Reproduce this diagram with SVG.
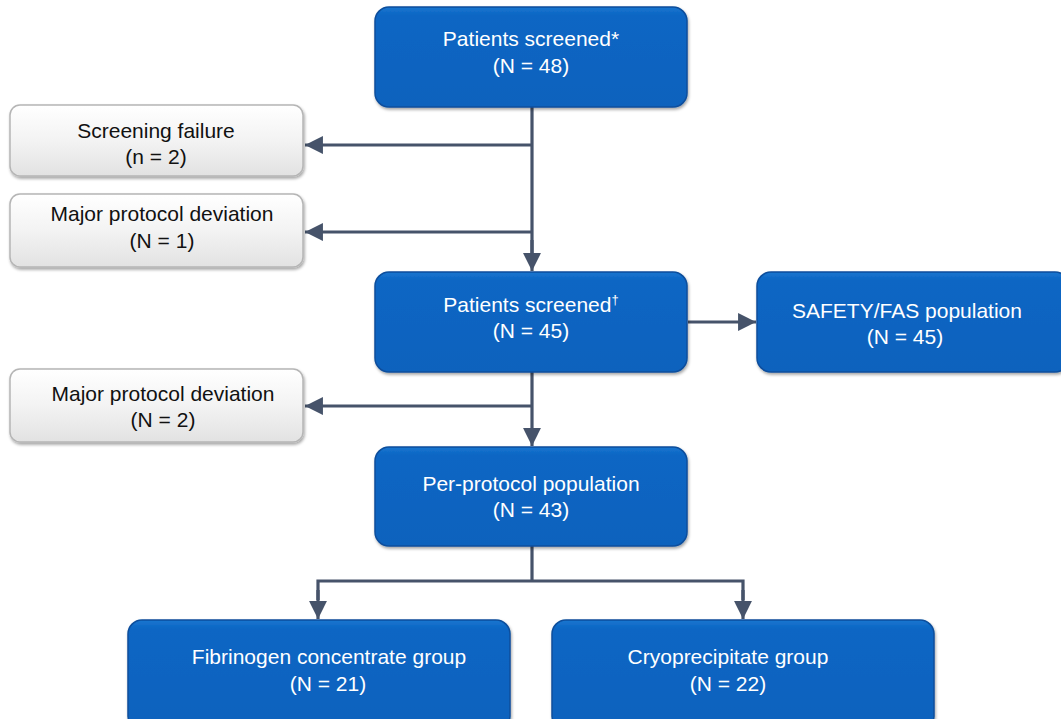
<svg xmlns="http://www.w3.org/2000/svg" width="1061" height="719" viewBox="0 0 1061 719">
<defs>
<linearGradient id="gBlue" x1="0" y1="0" x2="0" y2="1">
<stop offset="0" stop-color="#1a76d0"/>
<stop offset="0.08" stop-color="#0b66c4"/>
<stop offset="1" stop-color="#0a62bd"/>
</linearGradient>
<linearGradient id="gGray" x1="0" y1="0" x2="0" y2="1">
<stop offset="0" stop-color="#ffffff"/>
<stop offset="0.5" stop-color="#f3f3f3"/>
<stop offset="1" stop-color="#e2e2e2"/>
</linearGradient>
<marker id="ah" viewBox="0 0 10 10" refX="10" refY="5" markerWidth="5.6" markerHeight="5.6" orient="auto" markerUnits="strokeWidth">
<path d="M0,0 L10,5 L0,10 Z" fill="#46536a"/>
</marker>
<filter id="sh" x="-5%" y="-5%" width="110%" height="115%">
<feDropShadow dx="1" dy="2" stdDeviation="1.5" flood-color="#000" flood-opacity="0.35"/>
</filter>
</defs>
<style>
.blue{fill:url(#gBlue);stroke:#0a4e9c;stroke-width:1.5;filter:url(#sh)}
.gray{fill:url(#gGray);stroke:#b5b5b5;stroke-width:1.5;filter:url(#sh)}
.tw{font-family:"Liberation Sans",Arial,sans-serif;font-size:21px;fill:#ffffff;text-anchor:middle}
.tb{font-family:"Liberation Sans",Arial,sans-serif;font-size:21px;fill:#111111;text-anchor:middle}
.c{stroke:#46536a;stroke-width:3.2;fill:none}
.ca{stroke:#46536a;stroke-width:3.2;fill:none;marker-end:url(#ah)}
</style>
<g id="connectors">
<line class="c" x1="532" y1="107" x2="532" y2="258"/>
<line class="ca" x1="532" y1="240" x2="532" y2="271"/>
<line class="ca" x1="532" y1="145" x2="305" y2="145"/>
<line class="ca" x1="532" y1="232" x2="305" y2="232"/>
<line class="ca" x1="688" y1="322" x2="756" y2="322"/>
<line class="ca" x1="532" y1="372" x2="532" y2="446"/>
<line class="ca" x1="532" y1="406" x2="305" y2="406"/>
<line class="c" x1="532" y1="546" x2="532" y2="581"/>
<polyline class="c" points="318,600 318,581 743,581 743,600"/>
<line class="ca" x1="318" y1="590" x2="318" y2="619"/>
<line class="ca" x1="743" y1="590" x2="743" y2="619"/>
</g>
<g id="n_screened48">
<rect class="blue" x="375" y="7" width="312" height="100" rx="14"/>
<text class="tw" x="531" y="46">Patients screened*</text>
<text class="tw" x="531" y="73">(N = 48)</text>
</g>
<g id="n_screenfail">
<rect class="gray" x="10" y="105" width="293" height="71" rx="10"/>
<text class="tb" x="156" y="138">Screening failure</text>
<text class="tb" x="156" y="164">(n = 2)</text>
</g>
<g id="n_deviation1">
<rect class="gray" x="10" y="194" width="293" height="73" rx="10"/>
<text class="tb" x="162" y="221">Major protocol deviation</text>
<text class="tb" x="162" y="248">(N = 1)</text>
</g>
<g id="n_screened45">
<rect class="blue" x="375" y="272" width="312" height="100" rx="14"/>
<text class="tw" x="531" y="312">Patients screened<tspan dy="-8" style="font-size:13px">†</tspan></text>
<text class="tw" x="531" y="338">(N = 45)</text>
</g>
<g id="n_safety">
<rect class="blue" x="757" y="272" width="312" height="100" rx="14"/>
<text class="tw" x="907" y="318">SAFETY/FAS population</text>
<text class="tw" x="905" y="344">(N = 45)</text>
</g>
<g id="n_deviation2">
<rect class="gray" x="10" y="369" width="293" height="73" rx="10"/>
<text class="tb" x="163" y="401">Major protocol deviation</text>
<text class="tb" x="163" y="427">(N = 2)</text>
</g>
<g id="n_perprotocol">
<rect class="blue" x="375" y="447" width="312" height="99" rx="14"/>
<text class="tw" x="531" y="491">Per-protocol population</text>
<text class="tw" x="531" y="517">(N = 43)</text>
</g>
<g id="n_fibrinogen">
<rect class="blue" x="128" y="620" width="382" height="110" rx="14"/>
<text class="tw" x="329" y="664">Fibrinogen concentrate group</text>
<text class="tw" x="328" y="691">(N = 21)</text>
</g>
<g id="n_cryo">
<rect class="blue" x="552" y="620" width="382" height="110" rx="14"/>
<text class="tw" x="728" y="664">Cryoprecipitate group</text>
<text class="tw" x="728" y="691">(N = 22)</text>
</g>
</svg>
